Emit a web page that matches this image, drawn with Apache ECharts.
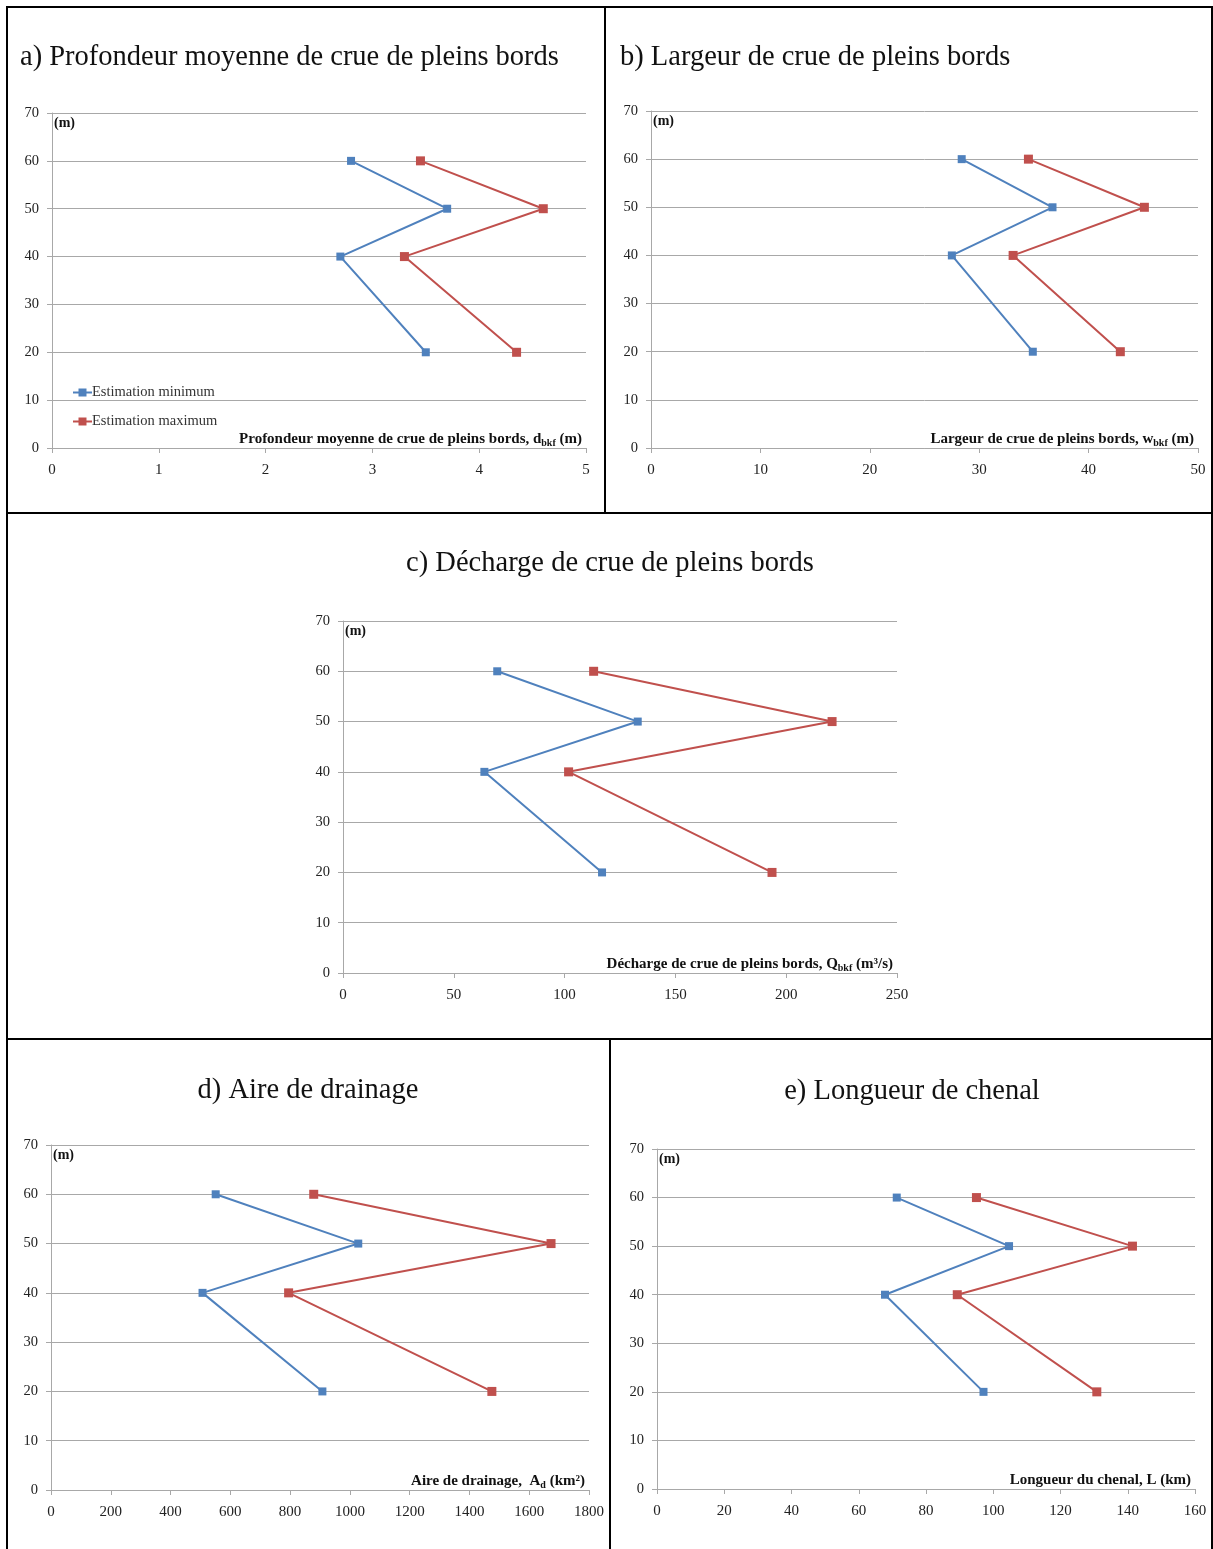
<!DOCTYPE html>
<html><head><meta charset="utf-8">
<script src="https://cdn.jsdelivr.net/npm/echarts@6/dist/echarts.min.js"></script>
<style>html,body{margin:0;padding:0;background:#fff}#c{width:1213px;height:1549px}</style>
</head><body><div id="c"></div>
<script>
// ---- data ----
const depths = [60, 50, 40, 20];                 // (m) y-values
const seriesNames = ['Estimation minimum', 'Estimation maximum'];

const depthMin = [2.8, 3.7, 2.7, 3.5];           // a) d_bkf (m)
const depthMax = [3.45, 4.6, 3.3, 4.35];
const widthMin = [28.4, 36.7, 27.5, 34.9];       // b) w_bkf (m)
const widthMax = [34.5, 45.1, 33.1, 42.9];
const dischargeMin = [69.6, 133, 63.8, 116.9];   // c) Q_bkf (m3/s)
const dischargeMax = [113.1, 220.7, 101.8, 193.6];
const areaMin = [551, 1028, 507, 908];           // d) A_d (km2)
const areaMax = [879, 1673, 795, 1475];
const lengthMin = [71.3, 104.7, 67.8, 97.1];     // e) L (km)
const lengthMax = [95, 141.4, 89.3, 130.8];

const panelTitles = [
  'a) Profondeur moyenne de crue de pleins bords',
  'b) Largeur de crue de pleins bords',
  'c) Décharge de crue de pleins bords',
  'd) Aire de drainage',
  'e) Longueur de chenal'
];
const axisTitles = [
  'Profondeur moyenne de crue de pleins bords, d{s|bkf} (m)',
  'Largeur de crue de pleins bords, w{s|bkf} (m)',
  'Décharge de crue de pleins bords, Q{s|bkf} (m³/s)',
  'Aire de drainage,  A{s|d} (km²)',
  'Longueur du chenal, L (km)'
];
const yAxisTitle = '(m)';
const xMaxes = [5, 50, 250, 1800, 160];
const xIntervals = [1, 10, 50, 200, 20];
const yMin = 0, yMax = 70, yInterval = 10;

const mins = [depthMin, widthMin, dischargeMin, areaMin, lengthMin];
const maxs = [depthMax, widthMax, dischargeMax, areaMax, lengthMax];

// ---- layout / style ----
const FONT = 'Liberation Serif';
const grids = [
  {left: 52, top: 113, width: 534, height: 335},
  {left: 651, top: 111, width: 547, height: 337},
  {left: 343, top: 621, width: 554, height: 352},
  {left: 51, top: 1145, width: 538, height: 345},
  {left: 657, top: 1149, width: 538, height: 340}
];
const titlePos = [
  {x: 20, y: 58, align: 'left'},
  {x: 620, y: 58, align: 'left'},
  {x: 610, y: 564, align: 'center'},
  {x: 308, y: 1091, align: 'center'},
  {x: 912, y: 1092, align: 'center'}
];
const BLUE = '#4F81BD', RED = '#C0504D', GRID = '#a8a8a8';

const xAxes = [], yAxes = [], series = [];
grids.forEach((g, i) => {
  xAxes.push({
    type: 'value', gridIndex: i, min: 0, max: xMaxes[i], interval: xIntervals[i],
    splitLine: {show: false},
    axisLine: {show: true, lineStyle: {color: GRID, width: 1}},
    axisTick: {show: true, length: 5, lineStyle: {color: GRID}},
    axisLabel: {margin: 15, color: '#222', fontFamily: FONT, fontSize: 15, formatter: v => String(v)},
    name: axisTitles[i], nameLocation: 'end', nameGap: -4,
    nameTextStyle: {
      align: 'right', verticalAlign: 'bottom', padding: [0, 0, 0, 0],
      fontFamily: FONT, fontWeight: 'bold', fontSize: 15, color: '#111', lineHeight: 17,
      rich: {s: {fontFamily: FONT, fontWeight: 'bold', fontSize: 10, lineHeight: 10, verticalAlign: 'bottom', color: '#111'}}
    }
  });
  yAxes.push({
    type: 'value', gridIndex: i, min: yMin, max: yMax, interval: yInterval,
    splitLine: {show: true, lineStyle: {color: GRID, width: 1}},
    axisLine: {show: true, lineStyle: {color: GRID, width: 1}},
    axisTick: {show: true, length: 5, lineStyle: {color: GRID}},
    axisLabel: {margin: 13, color: '#222', fontFamily: FONT, fontSize: 14.5},
    name: yAxisTitle, nameLocation: 'end', nameGap: -3,
    nameTextStyle: {align: 'left', verticalAlign: 'top', padding: [0, 0, 0, 2],
      fontFamily: FONT, fontWeight: 'bold', fontSize: 14, color: '#111'}
  });
  series.push({
    type: 'line', name: seriesNames[0], xAxisIndex: i, yAxisIndex: i,
    data: depths.map((d, k) => [mins[i][k], d]),
    color: BLUE, symbol: 'rect', symbolSize: 8, showAllSymbol: true,
    lineStyle: {width: 2, color: BLUE}, itemStyle: {color: BLUE}
  });
  series.push({
    type: 'line', name: seriesNames[1], xAxisIndex: i, yAxisIndex: i,
    data: depths.map((d, k) => [maxs[i][k], d]),
    color: RED, symbol: 'rect', symbolSize: 9, showAllSymbol: true,
    lineStyle: {width: 2, color: RED}, itemStyle: {color: RED}
  });
});

const graphics = [];
// panel borders
const borderLines = [
  [6, 7, 1213, 7], [7, 6, 7, 1549], [1212, 6, 1212, 1549],
  [605, 6, 605, 513], [6, 513, 1213, 513], [6, 1039, 1213, 1039], [610, 1039, 610, 1549]
];
borderLines.forEach(l => graphics.push({
  type: 'line', shape: {x1: l[0], y1: l[1], x2: l[2], y2: l[3]},
  style: {stroke: '#000', lineWidth: 2}, silent: true
}));
titlePos.forEach((p, i) => graphics.push({
  type: 'text', silent: true,
  style: {text: panelTitles[i], x: p.x, y: p.y, textAlign: p.align, textVerticalAlign: 'middle',
    font: '28.5px "' + FONT + '"', fill: '#111'}
}));

const chart = echarts.init(document.getElementById('c'), null, {renderer: 'canvas'});
chart.setOption({
  animation: false,
  backgroundColor: '#fff',
  grid: grids.map(g => Object.assign({containLabel: false}, g)),
  xAxis: xAxes, yAxis: yAxes, series: series,
  legend: {
    data: seriesNames, orient: 'vertical', left: 67, top: 380,
    itemWidth: 19, itemHeight: 10, itemGap: 14,
    textStyle: {fontFamily: FONT, fontSize: 14.5, color: '#333', padding: [0, 0, 0, -5]}
  },
  graphic: graphics
});
</script></body></html>
